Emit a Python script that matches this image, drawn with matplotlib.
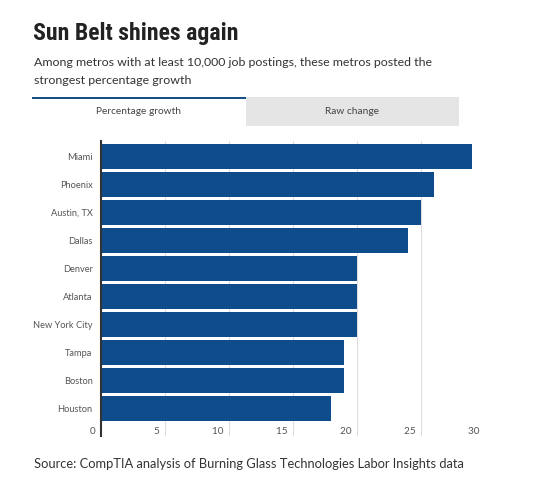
import matplotlib
matplotlib.use("Agg")
import matplotlib.pyplot as plt
from matplotlib.patches import Rectangle
from matplotlib import font_manager

metros = ["Miami", "Phoenix", "Austin, TX", "Dallas", "Denver", "Atlanta",
          "New York City", "Tampa", "Boston", "Houston"]
growth = [29, 26, 25, 24, 20, 20, 20, 19, 19, 18]
xticks = [0, 5, 10, 15, 20, 25, 30]
tabs = ["Percentage growth", "Raw change"]

W, H = 553, 483
fig = plt.figure(figsize=(W / 100, H / 100), dpi=100)
fig.patch.set_facecolor("white")

def fx(px):
    return px / W

def fy(py):
    return 1 - py / H

body = "Lato"
names = {f.name for f in font_manager.fontManager.ttflist}
title_kw = dict(family="DejaVu Sans", fontstretch="condensed")
for cand in ["Roboto Condensed", "Liberation Sans Narrow", "Open Sans Condensed",
             "DejaVu Sans Condensed"]:
    if cand in names:
        title_kw = dict(family=cand)
        break

# Title / subtitle
title = fig.text(fx(33), fy(40), "Sun Belt shines again", fontsize=21, fontweight="bold",
                 color="#222222", va="baseline", **title_kw)
fig.canvas.draw()
tw = title.get_window_extent().width
target = 195.0
if tw > target:
    title.set_fontsize(21 * (target / tw) ** 0.8)

fig.text(fx(34), fy(62), "Among metros with at least 10,000 job postings, these metros posted the",
         fontsize=8.9, family=body, color="#333333", va="center")
fig.text(fx(34), fy(80), "strongest percentage growth",
         fontsize=8.9, family=body, color="#333333", va="center")

# Tabs
fig.patches.append(Rectangle((fx(246), fy(126)), fx(459) - fx(246), fy(97) - fy(126),
                             transform=fig.transFigure, facecolor="#e5e5e5", edgecolor="none"))
fig.patches.append(Rectangle((fx(32), fy(99)), fx(246) - fx(32), fy(97) - fy(99),
                             transform=fig.transFigure, facecolor="#164f85", edgecolor="none"))
fig.text(fx(139), fy(111), tabs[0], fontsize=7.3, family=body, color="#444444",
         ha="center", va="center")
fig.text(fx(352), fy(111), tabs[1], fontsize=7.3, family=body, color="#444444",
         ha="center", va="center")

# Axes
ax = fig.add_axes([fx(101), fy(436), fx(485) - fx(101), fy(141) - fy(436)])
ypos = list(range(len(metros)))
ax.barh(ypos, growth, height=0.88, color="#0f4c8c", zorder=3)
ax.set_xlim(0, 30)
ax.set_ylim(9.98, -0.55)
ax.set_yticks(ypos)
ax.set_yticklabels(metros, family=body, fontsize=6.7, color="#555555")
ax.tick_params(axis="y", length=0, pad=6)
ax.set_xticks(xticks)
ax.set_xticklabels([])
ax.tick_params(axis="x", length=0)
for s in ["top", "right", "bottom"]:
    ax.spines[s].set_visible(False)
ax.spines["left"].set_color("#333333")
ax.spines["left"].set_linewidth(1.5)
ax.spines["left"].set_zorder(4)
ax.grid(axis="x", color="#dddddd", linewidth=0.8, zorder=0)
ax.set_axisbelow(True)
for t in xticks:
    ax.text(t, 9.82, f"{t}  ", ha="right", va="center", fontsize=7.2,
            family=body, color="#555555")

fig.text(fx(34), fy(464), "Source: CompTIA analysis of Burning Glass Technologies Labor Insights data",
         fontsize=9.3, family=body, color="#333333", va="center")

fig.savefig("out.png", dpi=100, facecolor="white")
